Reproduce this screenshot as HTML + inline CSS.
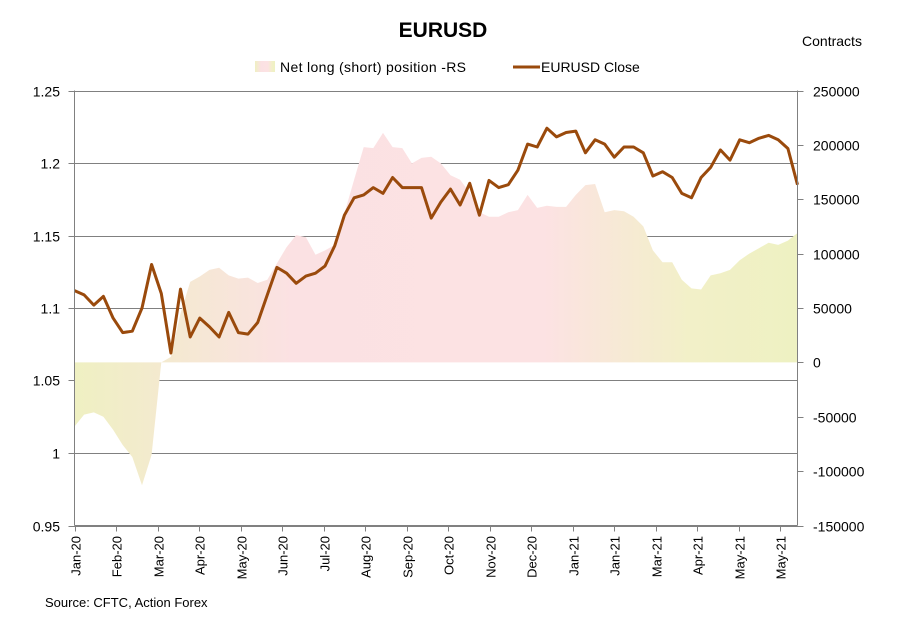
<!DOCTYPE html>
<html><head><meta charset="utf-8"><style>
html,body{margin:0;padding:0;background:#fff;}
svg{display:block;font-family:"Liberation Sans",Arial,sans-serif;}
</style></head><body>
<svg id="chart" width="901" height="635" viewBox="0 0 901 635" xmlns="http://www.w3.org/2000/svg">
<defs>
<linearGradient id="fillGrad" x1="0" x2="1" y1="0" y2="0">
<stop offset="0" stop-color="#eff0c2"/>
<stop offset="0.3" stop-color="#fbe1e3"/>
<stop offset="0.65" stop-color="#fce2e3"/>
<stop offset="0.85" stop-color="#f2f0c8"/>
<stop offset="1" stop-color="#eef1c2"/>
</linearGradient>
</defs>
<text x="443" y="37" text-anchor="middle" font-size="21" font-weight="bold">EURUSD</text>
<text x="832" y="46" text-anchor="middle" font-size="14">Contracts</text>
<g>
<rect x="255" y="61" width="20" height="11" fill="url(#fillGrad)"/>
<text x="280" y="72" font-size="14" textLength="186">Net long (short) position -RS</text>
<line x1="513" y1="67" x2="540" y2="67" stroke="#9a4a0c" stroke-width="3"/>
<text x="541" y="72" font-size="14">EURUSD Close</text>
</g>
<g id="grid"></g>
<g id="area"></g>
<g id="line"></g>
<g id="axes"></g>
<text x="45" y="607" font-size="13">Source: CFTC, Action Forex</text>
</svg>
<script>
const closeValues = [1.112,1.109,1.102,1.108,1.093,1.083,1.084,1.100,1.130,1.110,1.069,1.113,1.080,1.093,1.087,1.080,1.097,1.083,1.082,1.090,1.109,1.128,1.124,1.117,1.122,1.124,1.129,1.143,1.164,1.176,1.178,1.183,1.179,1.190,1.183,1.183,1.183,1.162,
1.173,1.182,1.171,1.186,1.164,1.188,1.183,1.185,1.195,1.213,1.211,1.224,1.218,1.221,1.222,1.207,1.216,1.213,1.204,1.211,1.211,1.207,1.191,1.194,1.190,1.179,1.176,1.190,1.197,1.209,1.202,1.216,1.214,1.217,1.219,1.216,1.210,1.185];
const netPositions = [-59000,-48000,-46000,-50000,-62000,-76000,-87000,-113000,-85000,0,5000,45000,74000,79000,85000,87000,80000,77000,78000,73000,76000,91000,106000,117000,115000,99000,103000,108000,137000,168000,198000,197000,211000,198000,197000,183000,188000,189000,
183000,172000,168000,156000,138000,134000,134000,138000,140000,154000,142000,144000,143000,143000,154000,163000,164000,138000,140000,139000,134000,125000,103000,92000,92000,76000,68000,67000,80000,82000,85000,94000,100000,105000,110000,108000,112000,119000];
const xTickLabels = ["Jan-20","Feb-20","Mar-20","Apr-20","May-20","Jun-20","Jul-20","Aug-20","Sep-20","Oct-20","Nov-20","Dec-20","Jan-21","Jan-21","Mar-21","Apr-21","May-21","May-21"];
const leftTicks = [0.95,1,1.05,1.1,1.15,1.2,1.25];
const rightTicks = [-150000,-100000,-50000,0,50000,100000,150000,200000,250000];

const NS="http://www.w3.org/2000/svg";
const X0=74.5, X1=797.5, Y0=90.5, Y1=525.5;
const n=closeValues.length;
function xAt(i){return X0+(X1-X0)*i/(n-1);}
function yLeft(v){return Y1-(v-0.95)/(1.25-0.95)*(Y1-Y0);}
function yRight(v){return Y1-(v+150000)/400000*(Y1-Y0);}
function mk(tag,attrs,parent){const e=document.createElementNS(NS,tag);for(const k in attrs)e.setAttribute(k,attrs[k]);parent.appendChild(e);return e;}
const grid=document.getElementById('grid'),area=document.getElementById('area'),line=document.getElementById('line'),axes=document.getElementById('axes');

leftTicks.forEach(t=>{
  const y=Math.round(yLeft(t))+0.5;
  const g=mk('line',{x1:X0,x2:X1,y1:y,y2:y,stroke:'#808080','stroke-width':1},grid);
  
  
  const tk=mk('line',{x1:X0-6,x2:X0,y1:y,y2:y,stroke:'#808080'},axes);
  
  
  const lb=mk('text',{x:60,y:y+5,'text-anchor':'end','font-size':14},axes);
  lb.textContent=String(t);
  
  
});
rightTicks.forEach(t=>{
  const y=Math.round(yRight(t))+0.5;
  const tk=mk('line',{x1:X1,x2:X1+6,y1:y,y2:y,stroke:'#808080'},axes);
  
  
  const lb=mk('text',{x:813,y:y+5,'font-size':14},axes);
  lb.textContent=String(t);
  
  
});

let d='M'+xAt(0)+','+yRight(0);
netPositions.forEach((v,i)=>{d+=' L'+xAt(i).toFixed(1)+','+yRight(v).toFixed(1);});
d+=' L'+xAt(n-1)+','+yRight(0)+' Z';
const ap=mk('path',{d:d,fill:'url(#fillGrad)',stroke:'none'},area);



const pts=closeValues.map((v,i)=>xAt(i).toFixed(1)+','+yLeft(v).toFixed(1)).join(' ');
const pl=mk('polyline',{points:pts,fill:'none',stroke:'#9a4a0c','stroke-width':3,'stroke-linejoin':'round'},line);



const la=mk('line',{x1:X0,x2:X0,y1:Y0,y2:Y1,stroke:'#808080'},axes);


const ra=mk('line',{x1:X1,x2:X1,y1:Y0,y2:Y1,stroke:'#808080'},axes);


const ba=mk('line',{x1:X0,x2:X1,y1:Y1,y2:Y1,stroke:'#808080'},axes);



const step=41.5;
xTickLabels.forEach((lab,i)=>{
  const x=Math.round(X0+step*i)+0.5;
  const tk=mk('line',{x1:x,x2:x,y1:Y1,y2:Y1+6,stroke:'#808080'},axes);
  
  
  const tx=mk('text',{x:0,y:0,'text-anchor':'end','font-size':13,transform:'translate('+(x+5)+',536) rotate(-90)'},axes);
  tx.textContent=lab;
  
  
});
</script>
</body></html>
